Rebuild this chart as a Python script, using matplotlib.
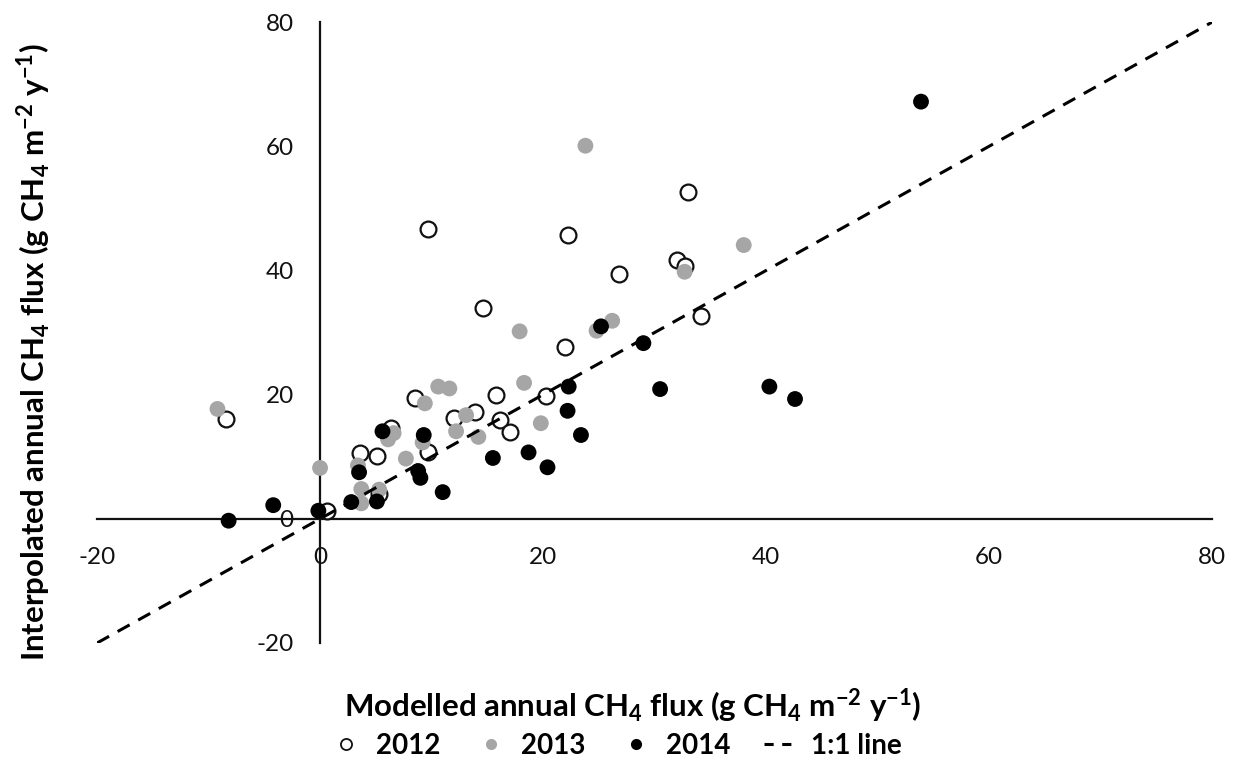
import matplotlib
matplotlib.use("Agg")
import matplotlib.pyplot as plt
from matplotlib.lines import Line2D

plt.rcParams['font.family'] = ['Lato', 'DejaVu Sans']
plt.rcParams['axes.unicode_minus'] = False
plt.rcParams['mathtext.fontset'] = 'custom'
plt.rcParams['mathtext.rm'] = 'Lato:bold'
plt.rcParams['mathtext.bf'] = 'Lato:bold'
plt.rcParams['mathtext.it'] = 'Lato:bold'

# Data (modelled x, interpolated y)
x2012 = [-8.4, 0.6, 3.6, 5.1, 5.3, 6.4, 8.5, 9.7, 9.7, 12.0, 13.9, 14.6, 15.8, 16.1,
         17.0, 20.3, 22.0, 22.2, 26.8, 32.0, 32.7, 33.0, 34.2]
y2012 = [16.1, 1.2, 10.6, 10.1, 4.0, 14.6, 19.4, 10.8, 46.7, 16.2, 17.2, 33.9, 20.0, 15.9,
         14.0, 19.8, 27.6, 45.7, 39.4, 41.7, 40.7, 52.6, 32.7]

x2013 = [-9.2, 0.0, 3.4, 3.7, 3.7, 5.3, 6.1, 6.6, 7.7, 9.2, 9.4, 10.6, 11.6, 12.2, 13.1,
         14.2, 17.9, 18.3, 19.8, 23.8, 24.8, 26.2, 32.7, 38.0]
y2013 = [17.7, 8.2, 8.6, 4.8, 2.5, 4.7, 12.8, 13.8, 9.7, 12.3, 18.6, 21.3, 21.0, 14.1, 16.7,
         13.2, 30.2, 21.9, 15.4, 60.1, 30.3, 31.9, 39.8, 44.1]

x2014 = [-8.2, -4.2, -0.15, 2.8, 3.5, 5.1, 5.6, 8.8, 9.0, 9.3, 11.0, 15.5, 18.7, 20.4,
         22.2, 22.3, 23.4, 25.2, 29.0, 30.5, 40.3, 42.6, 53.9]
y2014 = [-0.3, 2.2, 1.3, 2.7, 7.5, 2.8, 14.1, 7.7, 6.6, 13.5, 4.3, 9.8, 10.7, 8.3,
         17.4, 21.3, 13.5, 31.0, 28.3, 20.9, 21.3, 19.3, 67.2]

one_to_one = [-20, 80]
ticks = [-20, 0, 20, 40, 60, 80]
tick_labels = ['-20', '0', '20', '40', '60', '80']

fig = plt.figure(figsize=(12.38, 7.65), dpi=100)
ax = fig.add_axes([0.0784, 0.1595, 0.9006, 0.8115])

gray = '#a6a6a6'
ms = 130
ax.scatter(x2012, y2012, s=ms, facecolors='white', edgecolors='#111111', linewidths=1.6, zorder=3)
ax.scatter(x2013, y2013, s=ms, color=gray, edgecolors='none', zorder=4)
ax.scatter(x2014, y2014, s=ms, color='black', edgecolors='none', zorder=5)
ax.plot(one_to_one, one_to_one, color='black', lw=2.2, dashes=(4.5, 3.2), zorder=6)

ax.set_xlim(-20, 80)
ax.set_ylim(-20, 80)
ax.set_xticks(ticks)
ax.set_xticklabels(tick_labels)
ax.set_yticks(ticks)
ax.set_yticklabels(tick_labels)

for s in ['top', 'right']:
    ax.spines[s].set_visible(False)
ax.spines['left'].set_position(('data', 0))
ax.spines['bottom'].set_position(('data', 0))
for s in ['left', 'bottom']:
    ax.spines[s].set_linewidth(1.6)
    ax.spines[s].set_color('#111111')
    ax.spines[s].set_zorder(2)
ax.tick_params(axis='both', length=0, labelsize=17.5, colors='#111111')
ax.tick_params(axis='x', pad=20)
ax.tick_params(axis='y', pad=19)

fig.text(0.511, 0.078, r'Modelled annual CH$_4$ flux (g CH$_4$ m$^{-2}$ y$^{-1}$)',
         ha='center', va='center', fontsize=22.5, fontweight='bold')
fig.text(0.027, 0.54, r'Interpolated annual CH$_4$ flux (g CH$_4$ m$^{-2}$ y$^{-1}$)',
         ha='center', va='center', rotation=90, fontsize=22.5, fontweight='bold')

handles = [
    Line2D([], [], ls='none', marker='o', markersize=8, markerfacecolor='white',
           markeredgecolor='#111111', markeredgewidth=1.3),
    Line2D([], [], ls='none', marker='o', markersize=8, markerfacecolor=gray,
           markeredgecolor='none'),
    Line2D([], [], ls='none', marker='o', markersize=8, markerfacecolor='black',
           markeredgecolor='none'),
    Line2D([], [], color='black', lw=2.2, dashes=(3.0, 2.8)),
]
labels = ['2012', '2013', '2014', '1:1 line']
fig.legend(handles, labels, loc='center', bbox_to_anchor=(0.497, 0.025), ncol=4,
           frameon=False, prop={'weight': 'bold', 'size': 20}, handlelength=1.25,
           handletextpad=0.45, columnspacing=1.2)

fig.savefig('out.png', dpi=100)
